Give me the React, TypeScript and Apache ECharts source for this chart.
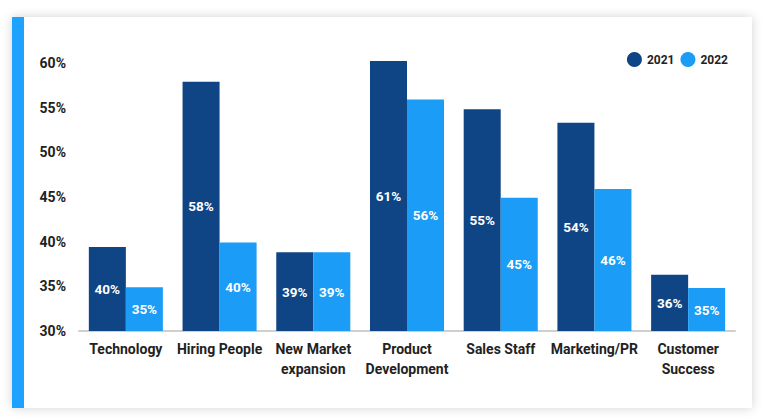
import React, { useEffect, useRef } from "react";
import * as echarts from "echarts";

const categories = [
  "Technology",
  "Hiring People",
  "New Market\nexpansion",
  "Product\nDevelopment",
  "Sales Staff",
  "Marketing/PR",
  "Customer\nSuccess",
];
const values2021 = [39.4, 57.9, 38.8, 60.2, 54.8, 53.3, 36.3];
const values2022 = [34.9, 39.9, 38.8, 55.9, 44.9, 45.9, 34.8];
const labels2021 = ["40%", "58%", "39%", "61%", "55%", "54%", "36%"];
const labels2022 = ["35%", "40%", "39%", "56%", "45%", "46%", "35%"];
const seriesNames = ["2021", "2022"];
const colors = ["#0F4584", "#1B9CF6"];

export default function App() {
  const ref = useRef<HTMLDivElement>(null);
  useEffect(() => {
    if (!ref.current) return;
    const chart = echarts.init(ref.current, undefined, { renderer: "svg" });
    const font = "Roboto, 'Noto Sans', sans-serif";
    const mkLabel = (texts: string[]) => ({
      show: true,
      position: "inside",
      color: "#ffffff",
      fontWeight: "bold",
      fontSize: 13.5,
      fontFamily: font,
      formatter: (p: any) => texts[p.dataIndex],
    });
    chart.setOption({
      animation: false,
      legend: {
        right: 40,
        top: 47,
        icon: "circle",
        itemWidth: 15,
        itemHeight: 15,
        itemGap: 6,
        textStyle: { color: "#222", fontWeight: "bold", fontSize: 12, fontFamily: font },
        data: seriesNames,
      },
      grid: { left: 79, right: 38, top: 45, bottom: 89, containLabel: false },
      xAxis: {
        type: "category",
        data: categories,
        axisTick: { show: false },
        axisLine: { lineStyle: { color: "#cfcfcf", width: 2 } },
        axisLabel: {
          color: "#222",
          fontWeight: "bold",
          fontSize: 14,
          fontFamily: font,
          lineHeight: 20,
          margin: 8,
          interval: 0,
        },
      },
      yAxis: {
        type: "value",
        min: 30,
        max: 62,
        interval: 5,
        splitLine: { show: false },
        axisLine: { show: false },
        axisTick: { show: false },
        axisLabel: {
          showMaxLabel: false,
          formatter: "{value}%",
          color: "#222",
          fontWeight: "bold",
          fontSize: 14,
          fontFamily: font,
          margin: 13,
        },
      },
      series: [
        {
          name: seriesNames[0],
          type: "bar",
          data: values2021,
          itemStyle: { color: colors[0] },
          barGap: "0%",
          barCategoryGap: "21%",
          label: mkLabel(labels2021),
        },
        {
          name: seriesNames[1],
          type: "bar",
          data: values2022,
          itemStyle: { color: colors[1] },
          barGap: "0%",
          barCategoryGap: "21%",
          label: mkLabel(labels2022),
        },
      ],
    });
    return () => chart.dispose();
  }, []);

  return (
    <div style={{ position: "fixed", left: 0, top: 0, width: 773, height: 420, background: "#ffffff", overflow: "hidden" }}>
      <div
        style={{
          position: "absolute",
          left: 12,
          top: 17,
          width: 740,
          height: 391,
          boxSizing: "border-box",
          background: "#ffffff",
          borderLeft: "12px solid #1EA2FF",
          boxShadow: "0 0 10px rgba(0,0,0,0.18)",
        }}
      />
      <div ref={ref} style={{ position: "absolute", left: 0, top: 0, width: 773, height: 420 }} />
    </div>
  );
}
